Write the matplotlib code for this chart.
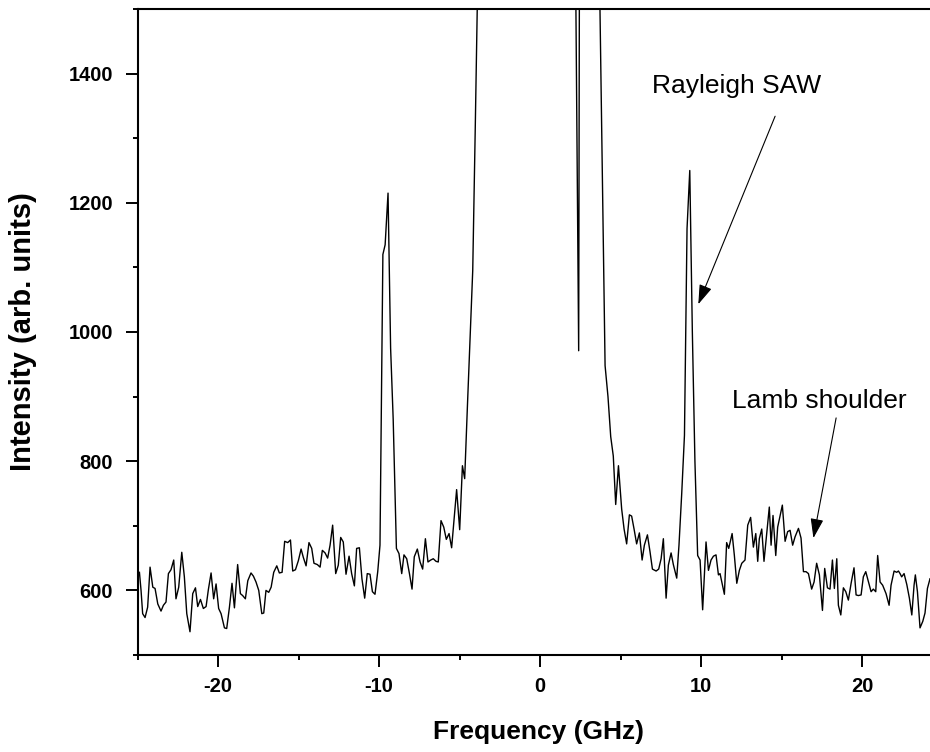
import numpy as np
import matplotlib
matplotlib.use('Agg')
import matplotlib.pyplot as plt
from matplotlib.ticker import MultipleLocator

# Brillouin spectrum, values
# (the central elastic peak goes way above the plotted range)
freq = [
	-24.88, -24.78, -24.68, -24.53, -24.37, -24.22, -24.05, -23.91, -23.74, -23.54,
	-23.39, -23.23, -23.08, -22.92, -22.75, -22.61, -22.44, -22.25, -22.09, -21.94,
	-21.74, -21.57, -21.40, -21.26, -21.09, -20.91, -20.74, -20.60, -20.43, -20.27,
	-20.12, -19.96, -19.81, -19.60, -19.46, -19.29, -19.13, -18.98, -18.78, -18.61,
	-18.47, -18.30, -18.15, -17.95, -17.80, -17.64, -17.47, -17.28, -17.16, -17.02,
	-16.85, -16.70, -16.54, -16.35, -16.19, -16.02, -15.86, -15.67, -15.50, -15.36,
	-15.19, -15.01, -14.84, -14.70, -14.53, -14.35, -14.18, -14.04, -13.83, -13.66,
	-13.52, -13.35, -13.19, -13.04, -12.88, -12.69, -12.53, -12.38, -12.22, -12.05,
	-11.86, -11.70, -11.53, -11.39, -11.22, -11.06, -10.89, -10.73, -10.56, -10.41,
	-10.25, -10.08, -9.94, -9.76, -9.62, -9.44, -9.28, -9.12, -8.92, -8.76,
	-8.59, -8.45, -8.28, -8.11, -7.95, -7.81, -7.62, -7.45, -7.29, -7.12,
	-6.96, -6.79, -6.63, -6.46, -6.32, -6.15, -5.98, -5.82, -5.65, -5.49,
	-5.32, -5.18, -4.99, -4.82, -4.68, -4.51, -4.35, -4.18, -4.02, -3.86,
	-3.70, -3.20, -2.50, -1.50, -0.50, 0.50, 1.30, 1.90, 2.10, 2.40,
	2.56, 3.00, 3.40, 3.70, 4.04, 4.22, 4.39, 4.55, 4.70, 4.87,
	5.07, 5.22, 5.38, 5.55, 5.69, 5.84, 6.00, 6.17, 6.34, 6.48,
	6.67, 6.83, 6.98, 7.21, 7.37, 7.52, 7.66, 7.83, 7.97, 8.14,
	8.28, 8.49, 8.63, 8.80, 8.97, 9.13, 9.30, 9.46, 9.62, 9.79,
	9.94, 10.10, 10.31, 10.46, 10.62, 10.77, 10.93, 11.08, 11.18, 11.45,
	11.59, 11.72, 11.93, 12.07, 12.22, 12.38, 12.53, 12.73, 12.90, 13.08,
	13.25, 13.40, 13.52, 13.62, 13.77, 13.91, 14.08, 14.24, 14.35, 14.47,
	14.64, 14.76, 14.91, 15.05, 15.22, 15.38, 15.53, 15.69, 15.84, 16.05,
	16.21, 16.36, 16.52, 16.67, 16.87, 17.02, 17.18, 17.35, 17.54, 17.68,
	17.85, 18.01, 18.16, 18.28, 18.43, 18.53, 18.68, 18.84, 18.99, 19.15,
	19.32, 19.50, 19.63, 19.77, 19.94, 20.08, 20.23, 20.39, 20.56, 20.70,
	20.85, 20.97, 21.12, 21.28, 21.49, 21.68, 21.80, 21.99, 22.15, 22.26,
	22.36, 22.46, 22.61, 22.78, 22.94, 23.09, 23.23, 23.31, 23.44, 23.60,
	23.77, 23.91, 24.06, 24.22,
]

intensity = [
	628, 600, 564, 558, 574, 636, 605, 603, 579, 568,
	577, 582, 626, 632, 647, 587, 605, 659, 621, 564,
	536, 595, 604, 575, 586, 572, 575, 601, 627, 587,
	610, 572, 564, 542, 541, 574, 611, 573, 640, 595,
	592, 587, 615, 627, 622, 613, 600, 564, 565, 600,
	597, 605, 628, 638, 627, 628, 676, 674, 678, 630,
	632, 646, 664, 651, 638, 674, 665, 642, 640, 636,
	662, 658, 650, 670, 701, 626, 639, 682, 675, 625,
	653, 626, 607, 665, 666, 618, 588, 626, 625, 598,
	594, 629, 670, 1120, 1135, 1215, 975, 865, 665, 657,
	626, 655, 649, 626, 602, 652, 664, 644, 633, 680,
	644, 647, 649, 645, 644, 708, 698, 679, 688, 666,
	716, 756, 694, 793, 773, 885, 985, 1095, 1320, 1560,
	2400, 5200, 8800, 12500, 14800, 13600, 9500, 4600, 1900, 971,
	3000, 4800, 3100, 1540, 948, 900, 838, 808, 733, 793,
	726, 695, 672, 717, 715, 695, 672, 689, 647, 670,
	686, 660, 633, 630, 633, 649, 680, 588, 639, 658,
	640, 619, 670, 750, 840, 1160, 1250, 1000, 800, 654,
	647, 570, 675, 631, 647, 653, 655, 624, 626, 594,
	674, 665, 688, 654, 611, 631, 642, 647, 701, 713,
	667, 688, 645, 680, 695, 645, 688, 729, 670, 716,
	654, 698, 716, 732, 676, 691, 693, 670, 683, 696,
	681, 629, 629, 626, 602, 613, 642, 624, 569, 634,
	604, 602, 647, 603, 649, 577, 562, 604, 598, 585,
	611, 635, 593, 592, 593, 621, 629, 614, 598, 602,
	598, 654, 613, 608, 595, 577, 608, 630, 628, 630,
	626, 621, 626, 609, 588, 562, 608, 624, 598, 542,
	552, 565, 603, 618,
]

# annotations: (label, text position, arrow tail, arrow tip)
notes = [
	('Rayleigh SAW', (6.96, 1370), (14.60, 1334), (9.83, 1043)),
	('Lamb shoulder', (11.90, 883), (18.39, 867), (16.98, 681)),
]

plt.rcParams['font.family'] = ['Liberation Sans', 'DejaVu Sans']
plt.rcParams['axes.unicode_minus'] = False

fig = plt.figure(figsize=(9.30, 7.52), dpi=100)
ax = fig.add_axes([137.5 / 930, 1 - 655 / 752, 1 - 137.5 / 930, (655 - 9) / 752])

ax.plot(freq, intensity, color='black', lw=1.0)

ax.set_xlim(-25, 24.22)
ax.set_ylim(500, 1500)

ax.xaxis.set_major_locator(MultipleLocator(10))
ax.xaxis.set_minor_locator(MultipleLocator(5))
ax.yaxis.set_major_locator(MultipleLocator(200))
ax.yaxis.set_minor_locator(MultipleLocator(100))

ax.tick_params(which='major', direction='out', length=8.5, width=1.4, labelsize=14.5, pad=7)
ax.tick_params(which='minor', direction='out', length=3.6, width=1.4)
ax.tick_params(axis='y', which='major', pad=9)
for lab in ax.get_xticklabels() + ax.get_yticklabels():
	lab.set_fontweight('bold')

for s in ['left', 'bottom', 'top']:
	ax.spines[s].set_linewidth(1.5)
ax.spines['right'].set_visible(False)

for label, txt, tail, tip in notes:
	ax.text(txt[0], txt[1], label, fontsize=19, ha='left', va='baseline')
	ax.annotate('', xy=tip, xytext=tail,
				arrowprops=dict(arrowstyle='-|>,head_length=0.6,head_width=0.2',
								color='black', lw=0.8, mutation_scale=20,
								shrinkA=0, shrinkB=0))

fig.text(538.5 / 930, 1 - 732 / 752, 'Frequency (GHz)', fontsize=19,
		 fontweight='bold', ha='center', va='center')
fig.text(23 / 930, 1 - 332 / 752, 'Intensity (arb. units)', fontsize=21,
		 fontweight='bold', ha='center', va='center', rotation=90)

fig.savefig('out.png', dpi=100)
